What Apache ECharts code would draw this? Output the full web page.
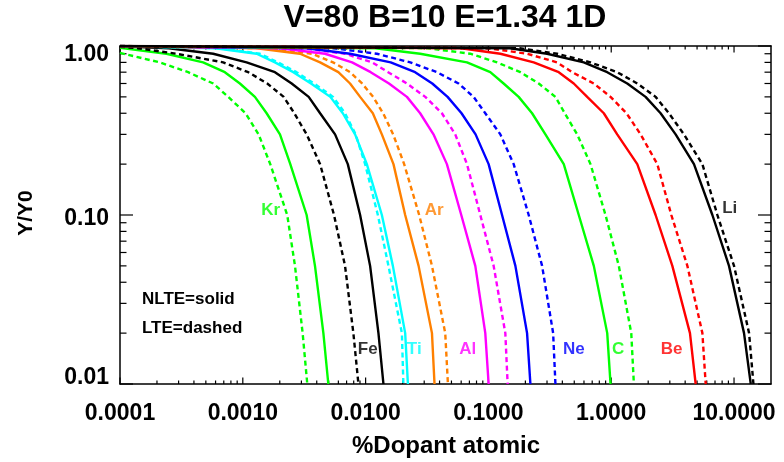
<!DOCTYPE html>
<html>
<head>
<meta charset="utf-8">
<script src="https://cdn.jsdelivr.net/npm/echarts@6/dist/echarts.min.js"></script>
<style>html,body{margin:0;padding:0;background:#fff}#c{width:784px;height:462px}</style>
</head>
<body>
<div id="c"></div>
<script>
// ---- axis ranges and tick values ----
const xMin = 0.0001, xMax = 20;
const yMin = 0.01, yMax = 1.0;
const xMajorTicks = [0.0001, 0.001, 0.01, 0.1, 1, 10];
const yMajorTicks = [0.01, 0.1, 1];

// ---- curves: [%dopant, Y/Y0] ----
const Kr_NLTE = [[1e-4,0.975],[2.39e-4,0.9],[4.75e-4,0.8],[7.14e-4,0.7],[9.47e-4,0.6],[1.255e-3,0.5],[1.563e-3,0.4],[2.007e-3,0.3],[2.436e-3,0.2],[3.31e-3,0.1],[3.87e-3,0.05],[4.53e-3,0.02],[4.97e-3,0.01]];
const Kr_LTE  = [[1e-4,0.91],[2.11e-4,0.8],[3.59e-4,0.7],[5.74e-4,0.6],[7.6e-4,0.5],[1.054e-3,0.4],[1.345e-3,0.3],[1.673e-3,0.2],[2.30e-3,0.1],[2.66e-3,0.05],[3.07e-3,0.02],[3.35e-3,0.01]];
const Fe_NLTE = [[1e-4,0.995],[2.5e-4,0.97],[5.74e-4,0.9],[1.074e-3,0.8],[1.827e-3,0.7],[2.50e-3,0.6],[3.44e-3,0.5],[4.26e-3,0.4],[5.64e-3,0.3],[7.16e-3,0.2],[9.02e-3,0.1],[1.088e-2,0.05],[1.272e-2,0.02],[1.397e-2,0.01]];
const Fe_LTE  = [[1e-4,0.99],[1.4e-4,0.97],[2.88e-4,0.9],[6.92e-4,0.8],[1.107e-3,0.7],[1.581e-3,0.6],[2.152e-3,0.5],[2.626e-3,0.4],[3.31e-3,0.3],[4.26e-3,0.2],[5.53e-3,0.1],[6.80e-3,0.05],[7.95e-3,0.02],[8.74e-3,0.01]];
const Ti_NLTE = [[1e-4,1.0],[6e-4,0.97],[1.296e-3,0.9],[1.827e-3,0.8],[2.577e-3,0.7],[3.59e-3,0.6],[5.16e-3,0.5],[6.52e-3,0.4],[8.21e-3,0.3],[1.023e-2,0.2],[1.356e-2,0.1],[1.667e-2,0.05],[2.10e-2,0.02],[2.21e-2,0.01]];
const Ti_LTE  = [[1e-4,1.0],[6.5e-4,0.97],[1.379e-3,0.9],[1.933e-3,0.8],[2.736e-3,0.7],[3.80e-3,0.6],[5.43e-3,0.5],[6.80e-3,0.4],[8.29e-3,0.3],[9.91e-3,0.2],[1.258e-2,0.1],[1.535e-2,0.05],[1.974e-2,0.02],[2.03e-2,0.01]];
const Ar_NLTE = [[1e-4,1.0],[1.3e-3,0.97],[2.92e-3,0.9],[4.26e-3,0.8],[6.00e-3,0.7],[7.47e-3,0.6],[9.02e-3,0.5],[1.145e-2,0.4],[1.356e-2,0.3],[1.686e-2,0.2],[2.10e-2,0.1],[2.70e-2,0.05],[3.47e-2,0.02],[3.64e-2,0.01]];
const Ar_LTE  = [[1e-4,1.0],[1.6e-3,0.97],[3.66e-3,0.9],[5.43e-3,0.8],[7.47e-3,0.7],[9.36e-3,0.6],[1.152e-2,0.5],[1.389e-2,0.4],[1.676e-2,0.3],[2.06e-2,0.2],[2.73e-2,0.1],[3.47e-2,0.05],[4.45e-2,0.02],[4.68e-2,0.01]];
const Al_NLTE = [[1e-4,1.0],[2e-3,0.97],[4.67e-3,0.9],[7.76e-3,0.8],[1.1e-2,0.7],[1.55e-2,0.6],[2.17e-2,0.5],[2.78e-2,0.4],[3.57e-2,0.3],[4.59e-2,0.2],[6.01e-2,0.1],[7.82e-2,0.05],[9.43e-2,0.02],[0.1004,0.01]];
const Al_LTE  = [[1e-4,1.0],[3e-3,0.97],[6.8e-3,0.9],[1.13e-2,0.8],[1.526e-2,0.7],[2.17e-2,0.6],[3.06e-2,0.5],[4.18e-2,0.4],[5.37e-2,0.3],[6.69e-2,0.2],[8.59e-2,0.1],[0.1103,0.05],[0.1373,0.02],[0.1434,0.01]];
const Ne_NLTE = [[1e-4,1.0],[3.3e-3,0.97],[7.47e-3,0.9],[1.6e-2,0.8],[2.53e-2,0.7],[3.49e-2,0.6],[4.65e-2,0.5],[6.04e-2,0.4],[7.86e-2,0.3],[0.1004,0.2],[0.1291,0.1],[0.1658,0.05],[0.2064,0.02],[0.2197,0.01]];
const Ne_LTE  = [[1e-4,1.0],[5.5e-3,0.97],[1.234e-2,0.9],[2.31e-2,0.8],[3.81e-2,0.7],[5.71e-2,0.6],[7.57e-2,0.5],[9.43e-2,0.4],[0.1251,0.3],[0.1606,0.2],[0.2128,0.1],[0.2736,0.05],[0.3365,0.02],[0.3513,0.01]];
const C_NLTE  = [[1e-4,1.0],[1.2e-2,0.97],[2.78e-2,0.9],[6.69e-2,0.8],[0.1036,0.7],[0.1330,0.6],[0.1763,0.5],[0.2268,0.4],[0.2912,0.3],[0.4107,0.2],[0.5441,0.1],[0.7214,0.05],[0.9278,0.02],[0.987,0.01]];
const C_LTE   = [[1e-4,1.0],[3.2e-2,0.97],[7.12e-2,0.9],[0.1175,0.8],[0.1820,0.7],[0.2568,0.6],[0.3513,0.5],[0.4184,0.4],[0.5281,0.3],[0.6780,0.2],[0.8985,0.1],[1.153,0.05],[1.456,0.02],[1.529,0.01]];
const Be_NLTE = [[1e-4,1.0],[6e-2,0.97],[0.1251,0.9],[0.2337,0.8],[0.3738,0.7],[0.4954,0.6],[0.6372,0.5],[0.8701,0.4],[1.119,0.3],[1.630,0.2],[2.298,0.1],[3.145,0.05],[4.377,0.02],[4.871,0.01]];
const Be_LTE  = [[1e-4,1.0],[0.1,0.97],[0.2064,0.9],[0.3627,0.8],[0.4808,0.7],[0.7214,0.6],[0.987,0.5],[1.333,0.4],[1.734,0.3],[2.373,0.2],[3.086,0.1],[4.169,0.05],[5.524,0.02],[5.878,0.01]];
const Li_NLTE = [[1e-4,1.0],[0.15,0.97],[0.3006,0.9],[0.5977,0.8],[0.9278,0.7],[1.351,0.6],[1.905,0.5],[2.524,0.4],[3.346,0.3],[4.718,0.2],[6.664,0.1],[9.10,0.05],[12.06,0.02],[13.69,0.01]];
const Li_LTE  = [[1e-4,1.0],[0.18,0.97],[0.3627,0.9],[0.6780,0.8],[1.119,0.7],[1.630,0.6],[2.298,0.5],[2.950,0.4],[3.910,0.3],[5.524,0.2],[7.320,0.1],[10.0,0.05],[13.26,0.02],[14.39,0.01]];

// ---- element labels (anchored in data coordinates) ----
const labelNames = ['Kr', 'Fe', 'Ti', 'Ar', 'Al', 'Ne', 'C', 'Be', 'Li'];
const labelX = [1.69e-3, 1.04e-2, 2.49e-2, 3.62e-2, 6.79e-2, 0.497, 1.14, 3.10, 9.22];
const labelY = [0.107, 0.016, 0.016, 0.107, 0.016, 0.016, 0.016, 0.016, 0.109];

const titleText = 'V=80 B=10 E=1.34 1D';
const xName = '%Dopant atomic';
const yName = 'Y/Y0';
const legendLines = ['NLTE=solid', 'LTE=dashed'];

// ---- styles ----
const GREEN = '#00ff00', BLACK = '#000000', CYAN = '#00ffff', ORANGE = '#ff8000',
      MAGENTA = '#ff00ff', BLUE = '#0000ff', RED = '#ff0000';
const elementColor = { Kr: GREEN, Fe: BLACK, Ti: CYAN, Ar: ORANGE, Al: MAGENTA, Ne: BLUE, C: GREEN, Be: RED, Li: BLACK };
const curves = [
  ['Kr', false, Kr_LTE], ['Kr', true, Kr_NLTE],
  ['Fe', false, Fe_LTE], ['Fe', true, Fe_NLTE],
  ['Ti', false, Ti_LTE], ['Ti', true, Ti_NLTE],
  ['Ar', false, Ar_LTE], ['Ar', true, Ar_NLTE],
  ['Al', false, Al_LTE], ['Al', true, Al_NLTE],
  ['Ne', false, Ne_LTE], ['Ne', true, Ne_NLTE],
  ['C',  false, C_LTE],  ['C',  true, C_NLTE],
  ['Be', false, Be_LTE], ['Be', true, Be_NLTE],
  ['Li', false, Li_LTE], ['Li', true, Li_NLTE]
];

const FONT = '"Liberation Sans", Arial, Helvetica, sans-serif';
const L = Math.log10;

function minorTicks(mn, mx) {
  const out = [];
  for (let e = Math.floor(L(mn)); e <= Math.ceil(L(mx)); e++) {
    for (let k = 2; k <= 9; k++) {
      const v = k * Math.pow(10, e);
      if (v > mn * 1.0001 && v < mx * 0.9999) out.push(v);
    }
  }
  return out;
}
const xMinor = minorTicks(xMin, xMax);
const yMinor = minorTicks(yMin, yMax);

// tick lengths (px): x ticks are shorter than y ticks, as in the original
const XMAJ = 6.5, XMIN = 3.5, YMAJ = 13, YMIN = 6.5;
// tick items: [x, y, side(0 bottom,1 top,2 left,3 right), length]
const tickItems = [];
xMajorTicks.forEach(v => { tickItems.push([v, yMin, 0, XMAJ]); tickItems.push([v, yMax, 1, XMAJ]); });
xMinor.forEach(v => { tickItems.push([v, yMin, 0, XMIN]); tickItems.push([v, yMax, 1, XMIN]); });
yMajorTicks.forEach(v => { tickItems.push([xMin, v, 2, YMAJ]); tickItems.push([xMax, v, 3, YMAJ]); });
yMinor.forEach(v => { tickItems.push([xMin, v, 2, YMIN]); tickItems.push([xMax, v, 3, YMIN]); });

const GRID = { left: 120, top: 46, width: 651, height: 338 };

const series = curves.map(([el, nlte, data]) => ({
  name: el + (nlte ? ' NLTE' : ' LTE'),
  type: 'line', xAxisIndex: 0, yAxisIndex: 0,
  data: data, showSymbol: false, symbol: 'none', clip: true,
  lineStyle: { color: elementColor[el], width: 2.4, type: nlte ? 'solid' : [5, 3.5] },
  silent: true, z: 3
}));
series.push({
  type: 'custom', xAxisIndex: 0, yAxisIndex: 0, silent: true, z: 2, clip: false,
  data: tickItems,
  renderItem: function (params, api) {
    const p = api.coord([api.value(0), api.value(1)]);
    const side = api.value(2), len = api.value(3);
    let q;
    if (side === 0) q = [p[0], p[1] - len];
    else if (side === 1) q = [p[0], p[1] + len];
    else if (side === 2) q = [p[0] + len, p[1]];
    else q = [p[0] - len, p[1]];
    return { type: 'line', shape: { x1: p[0], y1: p[1], x2: q[0], y2: q[1] },
             style: { stroke: '#000', lineWidth: 1.2 } };
  }
});
series.push({
  type: 'scatter', xAxisIndex: 0, yAxisIndex: 0, symbolSize: 1, silent: true, z: 5,
  itemStyle: { color: 'rgba(0,0,0,0)' },
  data: labelNames.map((n, i) => ({
    value: [labelX[i], labelY[i]],
    label: { show: true, position: 'inside', formatter: n, color: elementColor[n],
             fontFamily: FONT, fontWeight: 'bold', fontSize: 17 }
  }))
});

function yLabelFmt(v) {
  const s = v.toFixed(2);
  if (v > 0.5) return '{hi|' + s + '}';
  if (v > 0.05) return '{mid|' + s + '}';
  return '{lo|' + s + '}';
}
const yRich = {
  hi:  { padding: [17, 0, 0, 0], fontFamily: FONT, fontWeight: 'bold', fontSize: 23, color: '#000' },
  mid: { padding: [8, 0, 0, 0],  fontFamily: FONT, fontWeight: 'bold', fontSize: 23, color: '#000' },
  lo:  { padding: [0, 0, 12, 0], fontFamily: FONT, fontWeight: 'bold', fontSize: 23, color: '#000' }
};

const lineOnly = (pos, isX) => ({
  type: 'log', logBase: 10, gridIndex: 0, position: pos,
  min: isX ? xMin : yMin, max: isX ? xMax : yMax,
  axisLine: { show: true, onZero: false, lineStyle: { color: '#000', width: 1.5 } },
  axisTick: { show: false }, axisLabel: { show: false },
  splitLine: { show: false }, minorTick: { show: false }
});

const chart = echarts.init(document.getElementById('c'), null, { renderer: 'canvas' });
chart.setOption({
  animation: false,
  backgroundColor: '#ffffff',
  grid: GRID,
  xAxis: [
    Object.assign(lineOnly('bottom', true), {
      axisLabel: { show: true, margin: 18, showMaxLabel: false,
        formatter: v => v.toFixed(4),
        color: '#000', fontFamily: FONT, fontWeight: 'bold', fontSize: 23 }
    }),
    lineOnly('top', true)
  ],
  yAxis: [
    Object.assign(lineOnly('left', false), {
      axisLabel: { show: true, margin: 11, formatter: yLabelFmt, rich: yRich,
        color: '#000', fontFamily: FONT, fontWeight: 'bold', fontSize: 23 }
    }),
    lineOnly('right', false)
  ],
  graphic: [
    { type: 'text', x: 445, y: 18, silent: true,
      style: { text: titleText, fill: '#000', font: 'bold 32px ' + FONT, align: 'center', verticalAlign: 'middle' } },
    { type: 'text', x: 446, y: 446, silent: true,
      style: { text: xName, fill: '#000', font: 'bold 24px ' + FONT, align: 'center', verticalAlign: 'middle' } },
    { type: 'text', x: 26, y: 213, rotation: Math.PI / 2, silent: true,
      style: { text: yName, fill: '#000', font: 'bold 21px ' + FONT, align: 'center', verticalAlign: 'middle' } },
    { type: 'text', x: 142, y: 299, silent: true,
      style: { text: legendLines[0], fill: '#000', font: 'bold 17px ' + FONT, align: 'left', verticalAlign: 'middle' } },
    { type: 'text', x: 142, y: 328, silent: true,
      style: { text: legendLines[1], fill: '#000', font: 'bold 17px ' + FONT, align: 'left', verticalAlign: 'middle' } }
  ],
  series: series
});
</script>
</body>
</html>
